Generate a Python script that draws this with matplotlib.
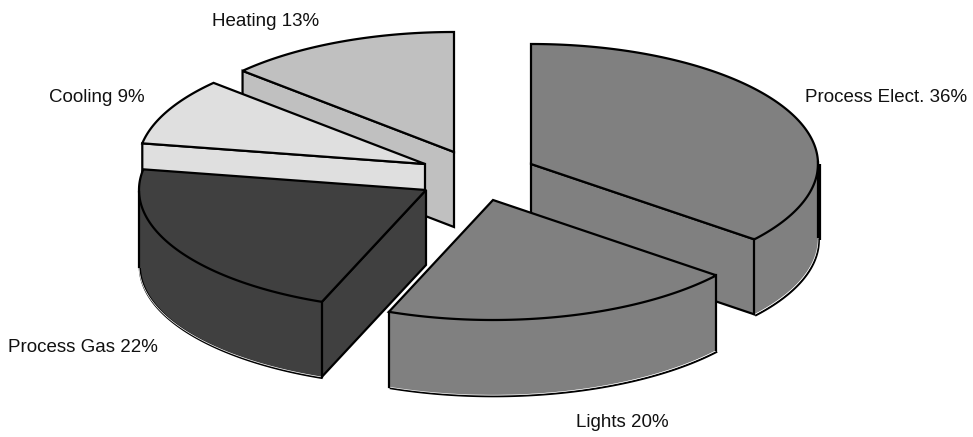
import numpy as np
import matplotlib
matplotlib.use('Agg')
import matplotlib.pyplot as plt
from matplotlib.patches import Polygon

plt.rcParams['font.family'] = ['Liberation Sans', 'DejaVu Sans']

names = ['Process Elect.', 'Lights', 'Process Gas', 'Cooling', 'Heating']
shares = [36, 20, 22, 9, 13]
colors = ['#808080', '#808080', '#404040', '#dfdfdf', '#c0c0c0']

# where each exploded slice has its tip, in pixels
tips_x = [531, 493, 426, 425, 454]
tips_y = [164, 200, 190, 164, 152]
label_x = [805, 576, 8, 49, 212]
label_y = [102, 427, 352, 102, 26]
draw_order = [4, 3, 0, 2, 1]

RX = 287
RY = 120
DEPTH = 75
LW = 1.6
SKEW = np.radians(0.9)


def rim(tip, t):
    # point on the ellipse, t runs clockwise from 12 o'clock
    t = t - SKEW * np.abs(np.sin(t))
    return np.column_stack([tip[0] + RX * np.sin(t), tip[1] - RY * np.cos(t)])


def side_face(ax, tip, t, color):
    p = rim(tip, np.array([t]))[0]
    pts = [tip, p, (p[0], p[1] + DEPTH), (tip[0], tip[1] + DEPTH)]
    ax.add_patch(Polygon(pts, closed=True, fc=color, ec='black', lw=LW, joinstyle='miter'))


def draw_slice(ax, tip, t0, t1, color):
    # side walls first, they sit under the top face
    if np.sin(t0) < -1e-6:
        side_face(ax, tip, t0, color)
    if np.sin(t1) > 1e-6:
        side_face(ax, tip, t1, color)

    # outer wall only on the front half of the ellipse
    a = max(t0, np.pi / 2)
    b = min(t1, 3 * np.pi / 2)
    if a < b:
        t = np.linspace(a, b, 120)
        top = rim(tip, t)
        low = top + [0, DEPTH]
        ax.add_patch(Polygon(np.vstack([top, low[::-1]]), closed=True, fc=color, ec='none'))
        # the black outline sits slightly off, with a white sliver next to it
        ax.plot(low[:, 0] + 0.8, low[:, 1] + 1.2, color='black', lw=LW, solid_capstyle='butt')
        ax.plot(low[:, 0], low[:, 1] + 0.2, color='white', lw=0.5, solid_capstyle='butt')
        ax.plot([top[0, 0], top[0, 0]], [top[0, 1], low[0, 1]], color='black', lw=LW)
        ax.plot([top[-1, 0], top[-1, 0]], [top[-1, 1], low[-1, 1]], color='black', lw=LW)

    t = np.linspace(t0, t1, 160)
    pts = np.vstack([[tip], rim(tip, t)])
    ax.add_patch(Polygon(pts, closed=True, fc=color, ec='black', lw=LW, joinstyle='miter'))


fig = plt.figure(figsize=(9.73, 4.37), dpi=100)
ax = fig.add_axes([0, 0, 1, 1])
ax.set_xlim(0, 973)
ax.set_ylim(437, 0)
ax.axis('off')

edges = np.cumsum([0] + shares) / sum(shares) * 2 * np.pi
for i in draw_order:
    draw_slice(ax, (tips_x[i], tips_y[i]), edges[i], edges[i + 1], colors[i])

# heavy edge down the right side of the largest slice
right_x = tips_x[0] + RX + 2
ax.plot([right_x, right_x], [tips_y[0], tips_y[0] + DEPTH + 1], color='black', lw=1.6, solid_capstyle='butt')

for name, share, x, y in zip(names, shares, label_x, label_y):
    ax.text(x, y, f'{name} {share}%', fontsize=13.5, color='#111111', ha='left', va='baseline')

fig.savefig('out.png', dpi=100)
plt.close()
